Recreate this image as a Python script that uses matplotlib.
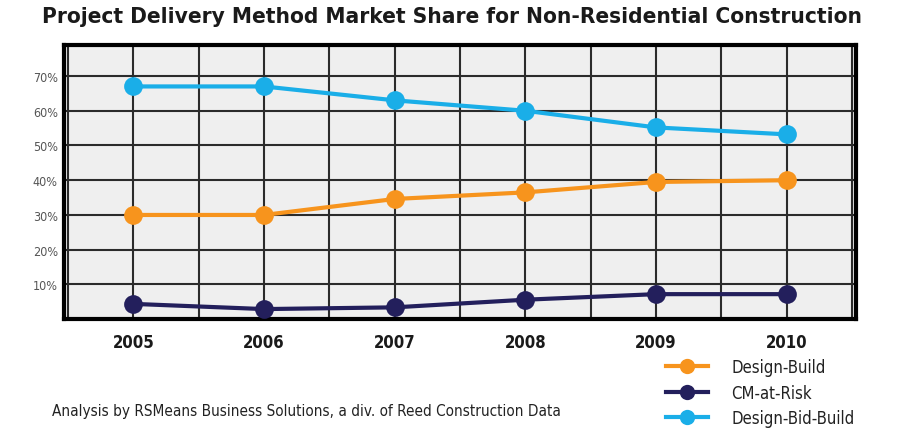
import numpy as np
import matplotlib.pyplot as plt
from matplotlib.lines import Line2D

years = [2005, 2006, 2007, 2008, 2009, 2010]
design_build = [30, 30, 34.6, 36.5, 39.5, 40]
cm_at_risk = [4.4, 2.9, 3.4, 5.6, 7.2, 7.2]
design_bid_build = [67, 67, 63, 60, 55.2, 53.2]
y_ticks = [10, 20, 30, 40, 50, 60, 70]

plt.rcParams['font.family'] = ['DejaVu Sans']
plt.rcParams['font.stretch'] = 'condensed'

fig = plt.figure(figsize=(9.04, 4.35), dpi=100)
ax = fig.add_axes([0.0708, 0.264, 0.876, 0.63])
ax.set_facecolor('#efefef')

# grid: half-year verticals, every 10% horizontals
for x in np.arange(2004.5, 2011, 0.5):
    ax.axvline(x, color='#2b2b2b', lw=1.5, zorder=1)
for y in y_ticks:
    ax.axhline(y, color='#2b2b2b', lw=1.5, zorder=1)

series = [
    ("Design-Build", design_build, '#f7941d'),
    ("CM-at-Risk", cm_at_risk, '#231f5c'),
    ("Design-Bid-Build", design_bid_build, '#1aaee8'),
]
for name, vals, col in series:
    ax.plot(years, vals, color=col, lw=3, marker='o', markersize=13.5,
            markeredgewidth=0, zorder=3)

ax.set_xlim(2004.47, 2010.53)
ax.set_ylim(0, 78.9)
ax.set_xticks(years)
ax.set_xticklabels([str(y) for y in years], fontsize=12, fontweight='bold',
                   color='#1a1a1a')
ax.set_yticks(y_ticks)
ax.set_yticklabels([f"{y}%" for y in y_ticks], fontsize=9, color='#555555')
ax.tick_params(length=0, axis='x', pad=10)
ax.tick_params(length=0, axis='y', pad=4.5)
for s in ax.spines.values():
    s.set_linewidth(3)
    s.set_color('black')

fig.text(0.5, 0.962, "Project Delivery Method Market Share for Non-Residential Construction",
         ha='center', va='center', fontsize=16.2, fontweight='bold', color='#1a1a1a')
fig.text(0.058, 0.055, "Analysis by RSMeans Business Solutions, a div. of Reed Construction Data",
         ha='left', va='center', fontsize=11, color='#222222')

handles = [Line2D([], [], color=c, lw=3, marker='o', markersize=11, markeredgewidth=0)
           for _, _, c in series]
fig.legend(handles, [n for n, _, _ in series], loc='upper left',
           bbox_to_anchor=(0.737, 0.174), frameon=False, fontsize=12,
           handlelength=2.5, labelspacing=0.45, handletextpad=1.4,
           borderaxespad=0, borderpad=0, labelcolor='#222222')

fig.savefig('out.png', dpi=100)
